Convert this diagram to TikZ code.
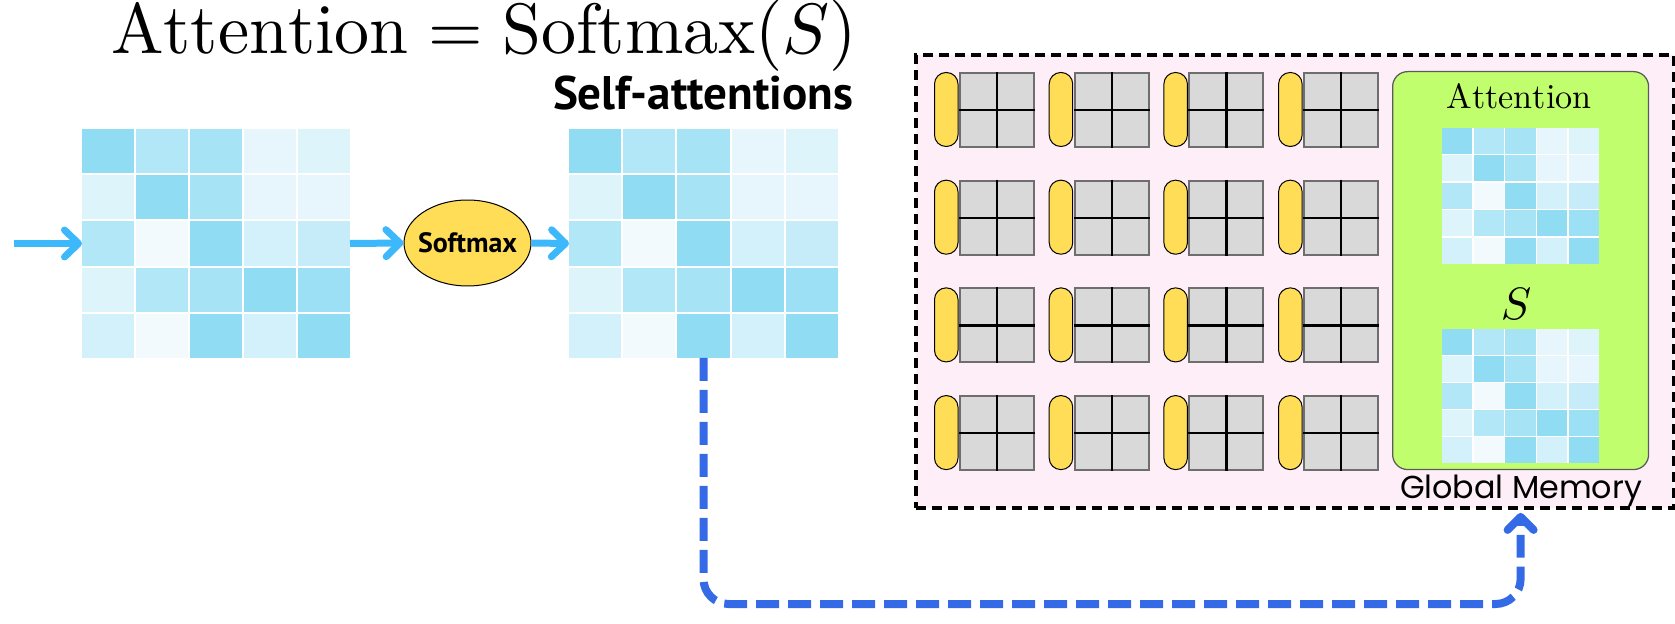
\documentclass[tikz,border=0pt]{standalone}
\usepackage{fontspec}
\usepackage{graphicx}
\usetikzlibrary{arrows.meta,calc,shapes.geometric}
\newfontfamily\ptsans{PT Sans}
\newfontfamily\poppins{Poppins}
\definecolor{c1}{HTML}{8FDCF3}
\definecolor{c2}{HTML}{9BE0F4}
\definecolor{c3}{HTML}{A6E4F5}
\definecolor{c4}{HTML}{B1E7F6}
\definecolor{c5}{HTML}{C6ECF9}
\definecolor{c6}{HTML}{D3F1FA}
\definecolor{c7}{HTML}{DDF4FB}
\definecolor{c8}{HTML}{E6F6FC}
\definecolor{c9}{HTML}{F2FAFD}
\definecolor{arrowblue}{HTML}{3CB8FB}
\definecolor{dashblue}{HTML}{356AE6}
\definecolor{memPink}{HTML}{FDEEF7}
\definecolor{pillyellow}{HTML}{FFDD57}
\definecolor{cellgray}{HTML}{D9D9D9}
\definecolor{blkgray}{HTML}{6E6E6E}
\definecolor{memgreen}{HTML}{C1FE6E}
\definecolor{greenedge}{HTML}{5A5A5A}

% name, x, y, width, height, gap
\newcommand\heatmap[6]{%
  \node[inner sep=0pt,outer sep=0pt,fill=white,minimum width={#4*0.02cm},minimum height={#5*0.02cm},anchor=north west] (#1) at (#2,#3) {};
  \pgfmathsetmacro\hmcw{(#4-4*#6)/5}%
  \pgfmathsetmacro\hmch{(#5-4*#6)/5}%
  \foreach \row [count=\i] in {{c1,c4,c3,c8,c7},{c7,c1,c3,c8,c8},{c4,c9,c1,c6,c5},{c7,c4,c3,c1,c2},{c6,c9,c1,c6,c1}}{
    \foreach \col [count=\j] in \row {
      \fill[\col] ({#2+(\j-1)*(\hmcw+#6)},{#3+(\i-1)*(\hmch+#6)}) rectangle ++(\hmcw,\hmch);
    }
  }
}
\newcommand\coreunit[3]{%
  \node[pill,anchor=north west] (#1p) at (#2,#3) {};
  \node[cellblk,anchor=north west] (#1b) at ({#2+25},#3) {};
  \draw[divline] (#1b.north) -- (#1b.south);
  \draw[divline] (#1b.west) -- (#1b.east);
}

\begin{document}
\begin{tikzpicture}[x=0.02cm,y=-0.02cm,
  flow/.style={draw=arrowblue,line width=0.14cm,-{Straight Barb[length=0.28cm,width=0.54cm,line cap=round,line join=round]}},
  memflow/.style={draw=dashblue,line width=0.16cm,dash pattern=on 0.46cm off 0.18cm,rounded corners=0.5cm,-{Straight Barb[length=0.26cm,width=0.52cm,line cap=round,line join=round]}},
  pill/.style={draw=black,line width=0.02cm,fill=pillyellow,minimum width=0.47cm,minimum height=1.48cm,rounded corners=0.23cm,inner sep=0pt},
  cellblk/.style={draw=blkgray,line width=0.04cm,fill=cellgray,minimum size=1.48cm,inner sep=0pt},
  divline/.style={black,line width=0.045cm},
  softnode/.style={ellipse,draw=black,line width=0.02cm,fill=pillyellow,minimum width=2.54cm,minimum height=1.72cm,inner sep=0pt},
  membox/.style={draw=black,line width=0.08cm,dash pattern=on 0.2cm off 0.12cm,fill=memPink,inner sep=0pt,anchor=north west},
  greenbox/.style={draw=greenedge,line width=0.025cm,fill=memgreen,rounded corners=0.3cm,inner sep=0pt,anchor=north west},
  lbl/.style={inner sep=0pt,outer sep=0pt}
]
\useasboundingbox (0,0) rectangle (1675,624);

% title and heading
\node[lbl,anchor=base] (title) at (484,54) {\resizebox{14.92cm}{1.07cm}{$\mathrm{Attention}=\mathrm{Softmax}(S)$}};
\node[lbl,anchor=base] (selfatt) at (703,110) {\resizebox{6cm}{!}{\ptsans\bfseries Self-attentions}};

% matrices
\heatmap{left}{82}{129}{268}{229}{2}
\heatmap{mid}{569}{129}{269}{229}{2}

% softmax
\node[softnode] (soft) at (467.5,243) {};
\node[lbl] (softlbl) at (soft.center) {\resizebox{1.98cm}{!}{\ptsans\bfseries Softmax}};

\coordinate (inp) at (14,243.5);
\draw[flow] (inp) -- (left.west);
\draw[flow] (left.east) -- (soft.west);
\draw[flow] (soft.east) -- (mid.west);

% memory box
\node[membox,minimum width=15.16cm,minimum height=9.06cm] (outer) at (914,53) {};
\foreach \cx in {0,...,3}{
  \foreach \ry in {0,...,3}{
    \pgfmathsetmacro\X{934+114.7*\cx}
    \pgfmathsetmacro\Y{72+107.7*\ry}
    \coreunit{u\cx\ry}{\X}{\Y}
  }
}
\node[greenbox,minimum width=5.12cm,minimum height=7.96cm] (green) at (1392,71) {};
\node[lbl,anchor=base] (attlbl) at (1519,109) {\resizebox{2.9cm}{0.5cm}{$\mathrm{Attention}$}};
\heatmap{attm}{1442}{128}{157}{136}{1.5}
\node[lbl] (slbl) at (1516,304) {\resizebox{!}{0.62cm}{$S$}};
\heatmap{sm}{1442}{329}{157}{134}{1.5}
\node[lbl,anchor=base] (gmlbl) at (1521,498) {\resizebox{4.84cm}{!}{\poppins Global Memory}};

% dashed connector
\coordinate (bot) at (0,604);
\coordinate (gmtip) at ([yshift=-0.06cm]green.south |- outer.south);
\draw[memflow] (mid.south) -- (mid.south |- bot) -- (gmtip |- bot) -- (gmtip);
\end{tikzpicture}
\end{document}
